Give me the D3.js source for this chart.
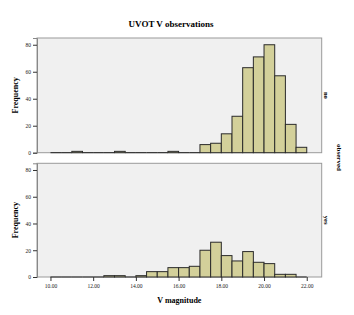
<!DOCTYPE html>
<html>
<head>
<meta charset="utf-8">
<script src="https://cdn.jsdelivr.net/npm/d3@7"></script>
<style>
  body { margin: 0; background: #fff; }
  text { font-family: 'Liberation Serif', 'DejaVu Serif', serif; }
</style>
</head>
<body>
<div class="chart"></div>
<script>
// bin starts (width 0.5) from 10.00 to 21.50
const binStarts = d3.range(24).map((i) => 10 + i * 0.5);
const groups = ['no', 'yes'];
// frequency per bin, not observed
const countsNo = [0, 0, 1, 0, 0, 0, 1, 0, 0, 0, 0, 1, 0, 0, 6, 7, 14, 27, 63, 71, 80, 57, 21, 4];
// frequency per bin, observed
const countsYes = [0, 0, 0, 0, 0, 1, 1, 0, 1, 4, 4, 7, 7, 8, 20, 26, 16, 12, 19, 11, 10, 2, 2, 0];
const xTicks = [10, 12, 14, 16, 18, 20, 22];
const yTicks = [0, 20, 40, 60, 80];

const width = 354;
const height = 315;
const left = 37;
const right = 321.7;
const panels = [
  { name: groups[0], counts: countsNo, top: 38, bottom: 152.7 },
  { name: groups[1], counts: countsYes, top: 163.3, bottom: 277 }
];

const svg = d3
  .select('.chart')
  .append('svg')
  .attr('width', width)
  .attr('height', height);

const x = d3.scaleLinear().domain([9.37, 22.7]).range([left, right]);

svg
  .append('text')
  .attr('x', 171)
  .attr('y', 27)
  .attr('text-anchor', 'middle')
  .attr('font-size', 9)
  .attr('font-weight', 'bold')
  .text('UVOT V observations');

panels.forEach((p) => {
  const y = d3.scaleLinear().domain([0, 85]).range([p.bottom, p.top]);
  const g = svg.append('g');

  g.append('rect')
    .attr('x', left)
    .attr('y', p.top)
    .attr('width', right - left)
    .attr('height', p.bottom - p.top)
    .attr('fill', '#f0f0f0')
    .attr('stroke', '#9a9a9a')
    .attr('stroke-width', 1);

  const yAxis = g
    .append('g')
    .attr('transform', `translate(${left},0)`)
    .call(d3.axisLeft(y).tickValues(yTicks).tickSize(4).tickPadding(2));
  yAxis.select('.domain').attr('stroke', '#888');
  yAxis.selectAll('.tick line').attr('stroke', '#333');
  yAxis.selectAll('text').attr('font-size', 5.5).attr('font-family', "'Liberation Serif', serif").attr('fill', '#222');

  const bins = binStarts.map((b, i) => ({ x0: b, x1: b + 0.5, n: p.counts[i] }));

  // zero bins drawn as flat line
  g.selectAll('line.zero')
    .data(bins.filter((d) => d.n === 0))
    .enter()
    .append('line')
    .attr('x1', (d) => x(d.x0))
    .attr('x2', (d) => x(d.x1))
    .attr('y1', y(0))
    .attr('y2', y(0))
    .attr('stroke', '#222')
    .attr('stroke-width', 1);

  g.selectAll('rect.bar')
    .data(bins.filter((d) => d.n > 0))
    .enter()
    .append('rect')
    .attr('x', (d) => x(d.x0))
    .attr('y', (d) => y(d.n))
    .attr('width', (d) => x(d.x1) - x(d.x0))
    .attr('height', (d) => y(0) - y(d.n))
    .attr('fill', '#d3d09a')
    .attr('stroke', '#2a2a2a')
    .attr('stroke-width', 1);

  g.append('text')
    .attr('transform', `translate(15,${(p.top + p.bottom) / 2}) rotate(-90)`)
    .attr('text-anchor', 'middle')
    .attr('dy', '0.35em')
    .attr('font-size', 8)
    .attr('font-weight', 'bold')
    .text('Frequency');

  g.append('text')
    .attr('transform', `translate(326,${(p.top + p.bottom) / 2}) rotate(90)`)
    .attr('text-anchor', 'middle')
    .attr('dy', '0.35em')
    .attr('font-size', 6.5)
    .attr('font-weight', 'bold')
    .text(p.name);
});

const xAxis = svg
  .append('g')
  .attr('transform', `translate(0,${panels[1].bottom})`)
  .call(d3.axisBottom(x).tickValues(xTicks).tickSize(4).tickPadding(3).tickFormat(d3.format('.2f')));
xAxis.select('.domain').remove();
xAxis.selectAll('.tick line').attr('stroke', '#333');
xAxis.selectAll('text').attr('font-size', 5.5).attr('font-family', "'Liberation Serif', serif").attr('fill', '#222');

svg
  .append('text')
  .attr('x', (left + right) / 2)
  .attr('y', 303)
  .attr('text-anchor', 'middle')
  .attr('font-size', 8)
  .attr('font-weight', 'bold')
  .text('V magnitude');

svg
  .append('text')
  .attr('transform', `translate(339,157.5) rotate(90)`)
  .attr('text-anchor', 'middle')
  .attr('dy', '0.35em')
  .attr('font-size', 7)
  .attr('font-weight', 'bold')
  .text('observed');
</script>
</body>
</html>
